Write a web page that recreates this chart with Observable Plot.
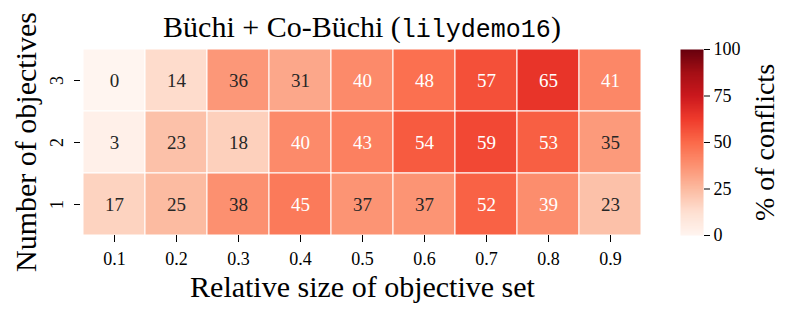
<!DOCTYPE html>
<html><head><meta charset="utf-8">
<script src="https://cdn.jsdelivr.net/npm/d3@7"></script>
<script src="https://cdn.jsdelivr.net/npm/@observablehq/plot@0.6"></script>
<style>
html,body{margin:0;padding:0;background:#fff;}
#wrap{position:relative;width:793px;height:316px;overflow:hidden;font-family:"Liberation Serif",serif;}
#wrap svg{position:absolute;left:0;top:0;}
#title{position:absolute;z-index:2;left:80px;width:564px;top:12px;text-align:center;font-size:30px;line-height:30px;color:#000;white-space:nowrap;}
#title .mono{font-family:"Liberation Mono",monospace;font-size:25px;}
</style></head><body>
<div id="wrap"><div id="title">Büchi + Co-Büchi (<span class="mono">lilydemo16</span>)</div></div>
<script>
// Data
const sizes = ["0.1","0.2","0.3","0.4","0.5","0.6","0.7","0.8","0.9"];
const objectives = ["3","2","1"];
const conflicts3 = [0,14,36,31,40,48,57,65,41];
const conflicts2 = [3,23,18,40,43,54,59,53,35];
const conflicts1 = [17,25,38,45,37,37,52,39,23];
const colorTicks = [0,25,50,75,100];

const byObjective = {"3": conflicts3, "2": conflicts2, "1": conflicts1};
const data = [];
for (const o of objectives) byObjective[o].forEach((v, j) => data.push({x: sizes[j], y: o, v}));

// matplotlib "Reds" colormap
const reds = ["#fff5f0","#fee0d2","#fcbba1","#fc9272","#fb6a4a","#ef3b2c","#cb181d","#a50f15","#67000d"];
const redsInterp = d3.piecewise(d3.interpolateRgb, reds);
const colorScale = {type: "linear", domain: [0, 100], interpolate: redsInterp};
const font = "Liberation Serif";

const main = Plot.plot({
  width: 793, height: 316,
  marginLeft: 80, marginRight: 149, marginTop: 48, marginBottom: 81,
  style: {fontFamily: font, fontSize: "18px", color: "#000", background: "transparent"},
  x: {domain: sizes, padding: 0, label: null},
  y: {domain: objectives, padding: 0, label: null},
  color: colorScale,
  marks: [
    Plot.cell(data, {x: "x", y: "y", fill: "v", stroke: "white", strokeWidth: 1}),
    Plot.text(data.filter(d => d.v >= 39), {x: "x", y: "y", text: d => String(d.v), fill: "white", fontSize: 19}),
    Plot.text(data.filter(d => d.v < 39), {x: "x", y: "y", text: d => String(d.v), fill: "#262626", fontSize: 19}),
    Plot.axisX({tickSize: 7, tickPadding: 10, fontSize: 18, label: null}),
    Plot.axisY({tickSize: 6, tickFormat: () => "", label: null}),
    Plot.text(objectives, {y: d => d, text: d => d, frameAnchor: "left", dx: -23, rotate: -90, fontSize: 18, textAnchor: "middle", lineAnchor: "middle"}),
    Plot.text(["Relative size of objective set"], {frameAnchor: "bottom", dy: 52, fontSize: 30, textAnchor: "middle", lineAnchor: "middle"}),
    Plot.text(["Number of objectives"], {frameAnchor: "left", dx: -54, rotate: -90, fontSize: 30, textAnchor: "middle", lineAnchor: "middle"})
  ]
});

const bar = Plot.plot({
  width: 793, height: 316,
  marginLeft: 680, marginRight: 90, marginTop: 49, marginBottom: 81,
  style: {fontFamily: font, fontSize: "18px", color: "#000", background: "transparent"},
  x: {domain: [0, 1], axis: null},
  y: {domain: [0, 100], label: null, axis: null},
  color: colorScale,
  marks: [
    Plot.raster({x1: 0, x2: 1, y1: 0, y2: 100, width: 1, height: 256, fill: (x, y) => y, imageRendering: "auto"}),
    Plot.axisY(colorTicks, {anchor: "right", tickSize: 6, tickPadding: 4, fontSize: 18, label: null}),
    Plot.text(["% of conflicts"], {frameAnchor: "right", dx: 62, rotate: -90, fontSize: 28, textAnchor: "middle", lineAnchor: "middle"})
  ]
});

const wrap = document.getElementById("wrap");
wrap.insertBefore(main, wrap.firstChild);
wrap.insertBefore(bar, wrap.firstChild);
</script>
</body></html>
